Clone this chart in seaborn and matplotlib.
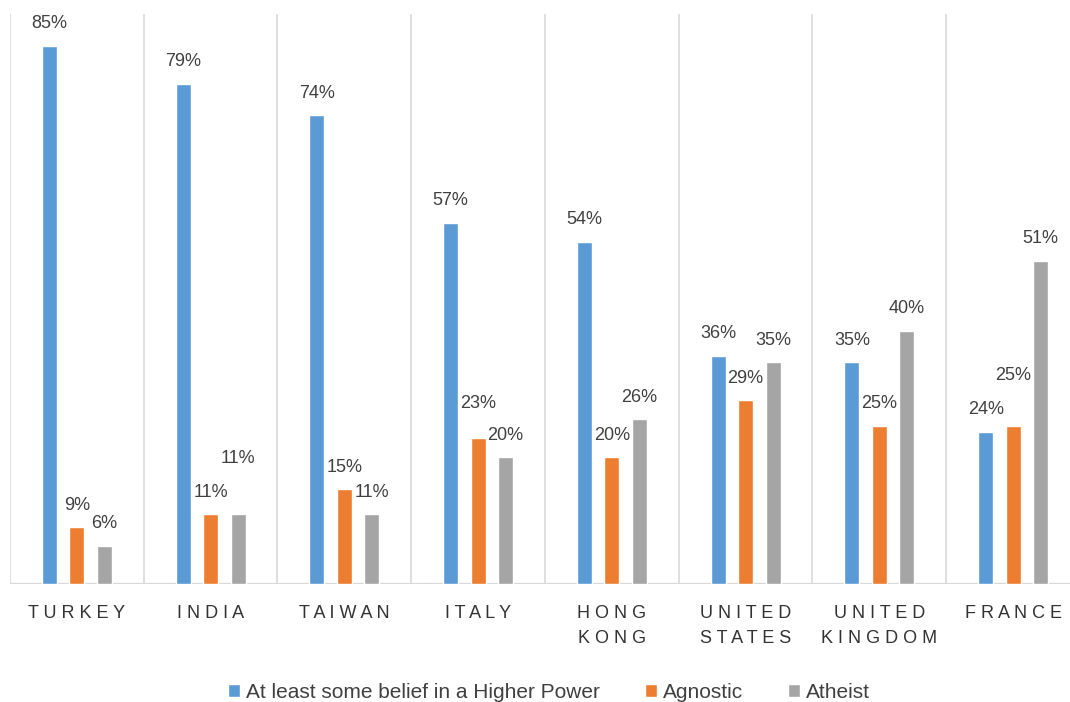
import seaborn as sns
import matplotlib.pyplot as plt
import pandas as pd

# data
countries = ["TURKEY", "INDIA", "TAIWAN", "ITALY", "HONG KONG",
             "UNITED STATES", "UNITED KINGDOM", "FRANCE"]
tick_labels = ["TURKEY", "INDIA", "TAIWAN", "ITALY", "HONG\nKONG",
               "UNITED\nSTATES", "UNITED\nKINGDOM", "FRANCE"]
series = ["At least some belief in a Higher Power", "Agnostic", "Atheist"]
belief = [85, 79, 74, 57, 54, 36, 35, 24]
agnostic = [9, 11, 15, 23, 20, 29, 25, 25]
atheist = [6, 11, 11, 20, 26, 35, 40, 51]

colors = ["#5B9BD5", "#ED7D31", "#A5A5A5"]
text_color = "#404040"

df = pd.DataFrame({
    "Country": countries * 3,
    "Group": [s for s in series for _ in countries],
    "Share": belief + agnostic + atheist,
})

sns.set_style("white")
plt.rcParams["font.family"] = ["Liberation Sans", "DejaVu Sans"]

fig = plt.figure(figsize=(10.7, 7.02), dpi=100)
# plot area runs slightly past the right edge, like the original
ax = fig.add_axes([10 / 1070, 118 / 702, 1070 / 1070, 570 / 702])

sns.barplot(data=df, x="Country", y="Share", hue="Group",
            order=countries, hue_order=series, palette=colors,
            width=0.615, gap=0.45, saturation=1, errorbar=None, ax=ax)

ax.set_xlim(-0.5, len(countries) - 0.5)
ax.set_ylim(0, 90)

# category separators and baseline
ax.vlines([i - 0.5 for i in range(len(countries) + 1)], 0, 90,
          colors="#D9D9D9", lw=1.2, zorder=0)
ax.axhline(0, color="#D9D9D9", lw=1.6, zorder=0)
for sp in ax.spines.values():
    sp.set_visible(False)


def spaced(label):
    return "\n".join(" ".join(word) for word in label.split("\n"))


ax.set_xticks(range(len(countries)))
ax.set_xticklabels([spaced(t) for t in tick_labels], fontsize=13,
                   color="#333333", linespacing=1.65)
for t in ax.get_xticklabels():
    t.set_multialignment("center")
ax.tick_params(axis="x", length=0, pad=15)
ax.set_yticks([])
ax.set_xlabel("")
ax.set_ylabel("")

# value labels (a few are nudged up, as in the original)
extra = {("INDIA", "Atheist"): 34, ("ITALY", "Agnostic"): 13,
         ("FRANCE", "Agnostic"): 28}
for container, s in zip(ax.containers, series):
    for bar, c in zip(container, countries):
        h = bar.get_height()
        x = bar.get_x() + bar.get_width() / 2
        off = 22 + extra.get((c, s), 0)
        ax.annotate(f"{h:.0f}%", (x, h), xytext=(0, off * 0.72),
                    textcoords="offset points", ha="center", va="center",
                    fontsize=13, color=text_color)

handles, labels = ax.get_legend_handles_labels()
ax.get_legend().remove()
leg = fig.legend(handles, labels, loc="center", bbox_to_anchor=(549 / 1070, 10 / 702),
                 ncol=3, frameon=False, fontsize=15, handlelength=0.58,
                 handleheight=0.58, columnspacing=2.15, handletextpad=0.3)
for t in leg.get_texts():
    t.set_color(text_color)

fig.savefig("out.png", dpi=100)
